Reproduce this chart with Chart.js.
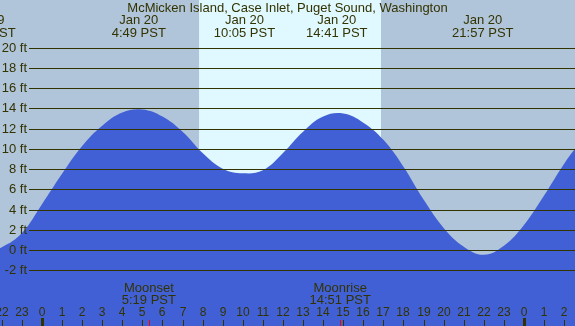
<!DOCTYPE html>
<html>
<head>
<meta charset="utf-8">
<script src="https://cdn.jsdelivr.net/npm/chart.js@4/dist/chart.umd.min.js"></script>
<style>
    html, body { margin: 0; padding: 0; background: #b0c4da; }
    canvas { display: block; }
</style>
</head>
<body>
<canvas id="tide" width="575" height="326"></canvas>
<script>
    // hours since midnight Jan 20 (negative = Jan 19, >24 = Jan 21)
    var hours = [-3, -2, -1, 0, 1, 2, 3, 4, 5, 6, 7, 8, 9, 10, 11, 12, 13, 14,
                 15, 16, 17, 18, 19, 20, 21, 22, 23, 24, 25, 26, 27];
    // tide height, ft
    var tideFt = [-0.3, 0.3, 1.7, 4.55, 7.55, 10.3, 12.3, 13.6, 13.9, 13.2, 11.7, 9.6, 8.05, 7.6,
                  7.9, 9.6, 11.7, 13.2, 13.5, 12.6, 10.9, 8.25, 5.0, 2.2, 0.35, -0.45, 0.45,
                  2.5, 5.4, 8.55, 11.2];

    var gridFt = [20, 18, 16, 14, 12, 10, 8, 6, 4, 2, 0, -2];
    var hourTicks = [-2, -1, 0, 1, 2, 3, 4, 5, 6, 7, 8, 9, 10, 11, 12, 13, 14, 15, 16, 17,
                     18, 19, 20, 21, 22, 23, 24, 25, 26];

    var sunrise = 7.82;
    var sunset = 16.88;

    var tideEventTimes = [-2.84, 4.82, 10.08, 14.68, 21.95];
    var tideEventDates = ['Jan 19', 'Jan 20', 'Jan 20', 'Jan 20', 'Jan 20'];
    var tideEventLabels = ['21:10 PST', '4:49 PST', '10:05 PST', '14:41 PST', '21:57 PST'];

    var moonEventTimes = [5.32, 14.85];
    var moonEventNames = ['Moonset', 'Moonrise'];
    var moonEventLabels = ['5:19 PST', '14:51 PST'];

    var title = 'McMicken Island, Case Inlet, Puget Sound, Washington';

    var textColor = '#333300';
    var font13 = '13px "Liberation Sans", Arial, sans-serif';
    var font12 = '12px "Liberation Sans", Arial, sans-serif';

    var points = [];
    for (var i = 0; i < hours.length; i++) {
        points.push({x: hours[i], y: tideFt[i]});
    }

    var backgroundPlugin = {
        id: 'tideBackground',
        beforeDraw: function(chart) {
            var ctx = chart.ctx;
            var x = chart.scales.x;
            var area = chart.chartArea;
            ctx.save();
            ctx.fillStyle = '#b0c4da';
            ctx.fillRect(0, 0, chart.width, chart.height);
            var x0 = x.getPixelForValue(sunrise);
            var x1 = x.getPixelForValue(sunset);
            ctx.fillStyle = '#e0f8ff';
            ctx.fillRect(x0, area.top, x1 - x0, area.bottom - area.top);
            ctx.restore();
        }
    };

    var overlayPlugin = {
        id: 'tideOverlay',
        afterDatasetsDraw: function(chart) {
            var ctx = chart.ctx;
            var x = chart.scales.x;
            var y = chart.scales.y;
            var right = chart.chartArea.right;
            var bottom = chart.chartArea.bottom;
            var i, px, py;

            ctx.save();

            // horizontal levels
            ctx.strokeStyle = textColor;
            ctx.lineWidth = 1;
            ctx.font = font13;
            ctx.fillStyle = textColor;
            ctx.textAlign = 'right';
            ctx.textBaseline = 'middle';
            for (i = 0; i < gridFt.length; i++) {
                py = Math.round(y.getPixelForValue(gridFt[i])) + 0.5;
                ctx.beginPath();
                ctx.moveTo(29, py);
                ctx.lineTo(right, py);
                ctx.stroke();
                ctx.fillText(gridFt[i] + ' ft', 27, py);
            }

            // title and tide times
            ctx.textAlign = 'center';
            ctx.textBaseline = 'alphabetic';
            ctx.fillText(title, chart.width / 2, 12);
            for (i = 0; i < tideEventTimes.length; i++) {
                px = x.getPixelForValue(tideEventTimes[i]);
                ctx.fillText(tideEventDates[i], px, 24);
                ctx.fillText(tideEventLabels[i], px, 37);
            }

            // moon events
            for (i = 0; i < moonEventTimes.length; i++) {
                px = x.getPixelForValue(moonEventTimes[i]);
                ctx.fillText(moonEventNames[i], px, 292);
                ctx.fillText(moonEventLabels[i], px, 304);
            }

            // hour ticks
            ctx.font = font12;
            for (i = 0; i < hourTicks.length; i++) {
                var h = hourTicks[i];
                px = Math.round(x.getPixelForValue(h));
                var label = String(((h % 24) + 24) % 24);
                ctx.fillText(label, px, 316);
                ctx.fillStyle = textColor;
                if (label === '0') {
                    ctx.fillRect(px - 1, 318, 3, bottom - 318);
                } else {
                    ctx.fillRect(px, 320, 1, bottom - 320);
                }
            }

            ctx.fillStyle = '#ff0000';
            for (i = 0; i < moonEventTimes.length; i++) {
                px = Math.round(x.getPixelForValue(moonEventTimes[i]));
                ctx.fillRect(px, 320, 1, bottom - 320);
            }
            ctx.fillStyle = textColor;

            ctx.restore();
        }
    };

    new Chart(document.getElementById('tide'), {
        type: 'line',
        data: {
            datasets: [{
                data: points,
                fill: 'start',
                backgroundColor: '#4160d6',
                borderColor: '#4160d6',
                borderWidth: 0,
                pointRadius: 0,
                tension: 0.4
            }]
        },
        options: {
            responsive: false,
            devicePixelRatio: 1,
            animation: false,
            layout: { padding: 0 },
            plugins: {
                legend: { display: false },
                tooltip: { enabled: false }
            },
            scales: {
                x: { type: 'linear', min: -2.09, max: 26.54, display: false },
                y: { type: 'linear', min: -7.49, max: 24.72, display: false }
            }
        },
        plugins: [backgroundPlugin, overlayPlugin]
    });
</script>
</body>
</html>
